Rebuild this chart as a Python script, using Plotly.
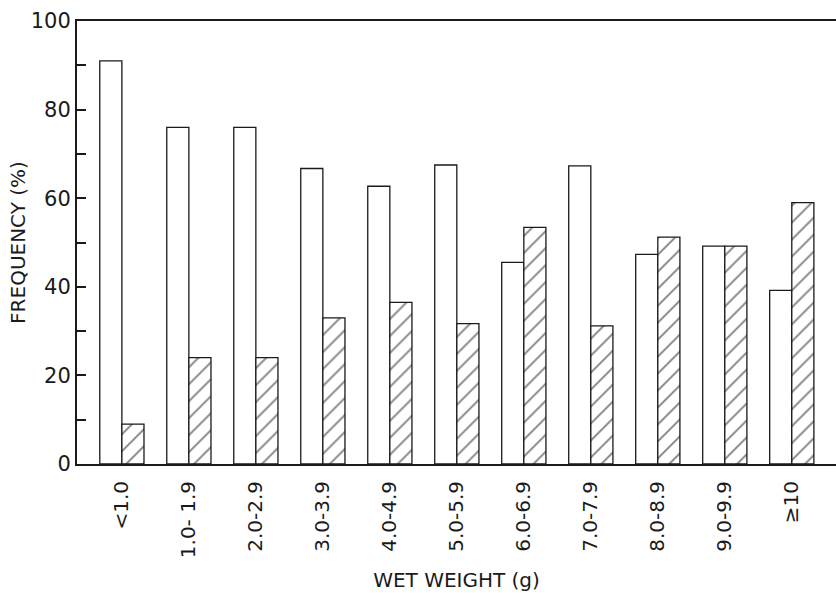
import plotly.graph_objects as go

categories = ["<1.0", "1.0- 1.9", "2.0-2.9", "3.0-3.9", "4.0-4.9", "5.0-5.9",
              "6.0-6.9", "7.0-7.9", "8.0-8.9", "9.0-9.9", "≥10"]
open_values = [91, 76, 76, 66.7, 62.7, 67.5, 45.5, 67.3, 47.3, 49.2, 39.2]
hatched_values = [9, 24, 24, 33, 36.5, 31.7, 53.4, 31.2, 51.2, 49.2, 59]
y_ticks = [0, 20, 40, 60, 80, 100]

FONT = "DejaVu Sans"
INK = "#1a1a1a"

fig = go.Figure()
fig.add_trace(go.Bar(
    x=categories, y=open_values,
    marker=dict(color="white", line=dict(color=INK, width=1.3)),
    showlegend=False,
))
fig.add_trace(go.Bar(
    x=categories, y=hatched_values,
    marker=dict(color="white", line=dict(color=INK, width=1.3),
                pattern=dict(shape="/", fgcolor="#000000", bgcolor="white",
                             size=12, solidity=0.15)),
    showlegend=False,
))

fig.update_layout(
    width=836, height=593,
    margin=dict(l=77, r=0, t=21, b=129),
    paper_bgcolor="white", plot_bgcolor="white",
    barmode="group", bargap=0.34, bargroupgap=0,
    font=dict(family=FONT, color=INK),
)
fig.update_xaxes(
    type="category",
    range=[-0.67, 10.66],
    showline=True, linecolor=INK, linewidth=2, mirror=True,
    showgrid=False, zeroline=False,
    ticks="", tickangle=-90, ticklabelstandoff=7,
    tickfont=dict(family=FONT, size=20, color=INK),
    title=dict(text="WET WEIGHT (g)", font=dict(family=FONT, size=20, color=INK), standoff=16),
    automargin=False,
)
fig.update_yaxes(
    range=[0, 100],
    tickvals=y_ticks, ticktext=[str(v) for v in y_ticks],
    showline=True, linecolor=INK, linewidth=2, mirror=False,
    showgrid=False, zeroline=False,
    ticks="inside", ticklen=9, tickwidth=1.5, tickcolor=INK,
    minor=dict(dtick=10, tick0=0, ticks="inside", ticklen=9, tickwidth=1.5, tickcolor=INK, showgrid=False),
    ticklabelstandoff=0,
    tickfont=dict(family=FONT, size=21, color=INK),
    title=dict(text="FREQUENCY (%)", font=dict(family=FONT, size=20, color=INK), standoff=0),
    automargin=False,
)

fig.write_html("out.html",
               config={"displayModeBar": False},
               post_script="document.body.style.margin='0px';document.body.style.overflow='hidden';")
